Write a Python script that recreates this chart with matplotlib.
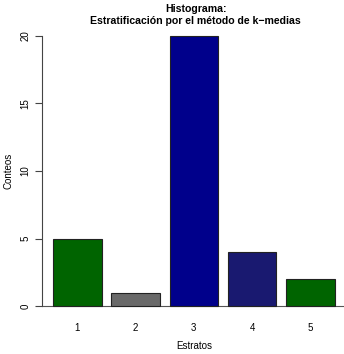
import matplotlib
matplotlib.use("Agg")

import matplotlib.pyplot as plt

# Data
estratos = ["1", "2", "3", "4", "5"]
conteos = [5, 1, 20, 4, 2]
colores = ["#006400", "#696969", "#00008B", "#191970", "#006400"]

plt.rcParams["font.family"] = ["Liberation Sans", "DejaVu Sans"]

W, H = 344, 354
fig = plt.figure(figsize=(W / 100, H / 100), dpi=100)
ax = fig.add_axes([41.7 / W, 37 / H, 304.3 / W, 292 / H])

# R barplot style positions: width 1, space 0.2
pos = [0.7 + 1.2 * i for i in range(len(conteos))]
ax.bar(pos, conteos, width=1.0, color=colores, edgecolor="#222222", linewidth=0.8, zorder=2)
ax.axhline(0, color="#555555", linewidth=0.8, zorder=1)

ax.set_xlim(-0.032, 6.232)
ax.set_ylim(-0.8, 20.8)

for s in ["top", "right", "bottom"]:
    ax.spines[s].set_visible(False)
ax.spines["left"].set_bounds(0, 20)
ax.spines["left"].set_color("#444444")
ax.spines["left"].set_linewidth(0.8)

ax.set_yticks([0, 5, 10, 15, 20])
ax.set_yticklabels(["0", "5", "10", "15", "20"], rotation=90, va="center", fontsize=7)
ax.tick_params(axis="y", length=5, width=0.8, color="#444444", pad=3)

ax.set_xticks(pos)
ax.set_xticklabels(estratos, fontsize=7)
ax.tick_params(axis="x", length=0, pad=4)

fig.text(194 / W, 1 - 346 / H, "Estratos", fontsize=7, ha="center", va="center")
fig.text(8 / W, 1 - 171 / H, "Conteos", fontsize=7, ha="center", va="center", rotation=90)
fig.text(196 / W, 1 - 8.5 / H, "Histograma:", fontsize=7.6, fontweight="bold",
         ha="center", va="center")
fig.text(195 / W, 1 - 20.5 / H, "Estratificación por el método de k\u2212medias",
         fontsize=7.6, fontweight="bold", ha="center", va="center")

fig.savefig("out.png", dpi=100)
